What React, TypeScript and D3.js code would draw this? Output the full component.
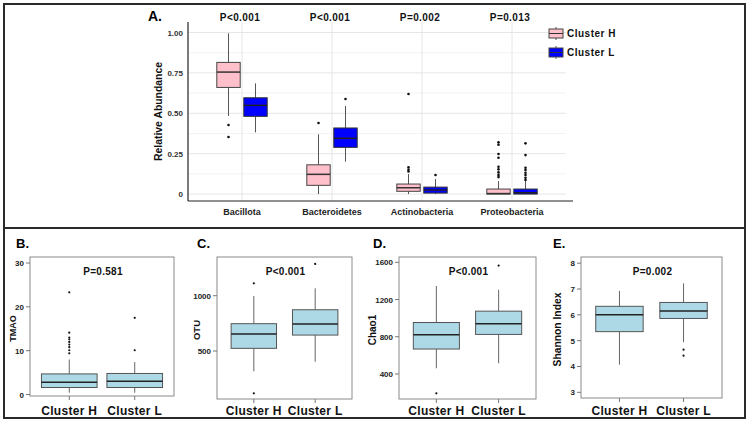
import React from 'react'
import * as d3 from 'd3'

// Panel A: relative abundance by phylum
const phyla = ['Bacillota', 'Bacteroidetes', 'Actinobacteria', 'Proteobacteria']
const phylaP = ['P<0.001', 'P<0.001', 'P=0.002', 'P=0.013']
// [whiskerLow, q1, median, q3, whiskerHigh]
const phylaH = [
  [0.483, 0.66, 0.755, 0.815, 0.995],
  [0.0, 0.054, 0.122, 0.181, 0.37],
  [0.0, 0.017, 0.039, 0.062, 0.124],
  [0.0, 0.0, 0.003, 0.031, 0.08],
]
const phylaHOut = [
  [0.427, 0.353],
  [0.44],
  [0.619, 0.165, 0.15, 0.14],
  [0.32, 0.305, 0.248, 0.225, 0.169, 0.153, 0.134, 0.118, 0.105],
]
const phylaL = [
  [0.382, 0.481, 0.549, 0.596, 0.685],
  [0.2, 0.289, 0.345, 0.409, 0.545],
  [0.0, 0.006, 0.025, 0.043, 0.093],
  [0.0, 0.0, 0.008, 0.031, 0.08],
]
const phylaLOut = [
  [],
  [0.588],
  [0.118],
  [0.314, 0.241, 0.163, 0.149, 0.132, 0.118, 0.101, 0.087],
]
const abundTicks = [0, 0.25, 0.5, 0.75, 1]
const abundTickLabels = ['0', '0.25', '0.50', '0.75', '1.00']

// Panels B–E: Cluster H vs Cluster L
const clusters = ['Cluster H', 'Cluster L']

const tmaoH = [0.4, 1.6, 2.8, 4.7, 8.0]
const tmaoL = [0.4, 1.6, 3.0, 4.8, 7.4]
const tmaoHOut = [23.3, 14.1, 13.0, 12.6, 12.0, 11.4, 10.8, 10.1, 9.4]
const tmaoLOut = [17.5, 10.1]

const otuH = [316, 524, 653, 747, 997]
const otuL = [403, 644, 744, 873, 1067]
const otuHOut = [1112, 117]
const otuLOut = [1287]

const chaoH = [461, 668, 821, 953, 1345]
const chaoL = [514, 825, 940, 1075, 1305]
const chaoHOut = [192]
const chaoLOut = [1565]

const shannonH = [4.07, 5.35, 6.0, 6.33, 6.93]
const shannonL = [4.94, 5.86, 6.15, 6.48, 7.22]
const shannonHOut: number[] = []
const shannonLOut = [4.65, 4.42]

const font = '"Liberation Sans", Arial, sans-serif'
const PINK = '#ffc0cb'
const BLUE = '#0000ff'
const LIGHTBLUE = '#add8e6'

type BoxProps = {
  cx: number
  w: number
  stats: number[]
  out: number[]
  y: d3.ScaleLinear<number, number>
  fill: string
  stroke: string
  whisker: string
  median: string
  r: number
}

function Box({ cx, w, stats, out, y, fill, stroke, whisker, median, r }: BoxProps) {
  const [lo, q1, med, q3, hi] = stats
  return (
    <g>
      <line x1={cx} x2={cx} y1={y(hi)} y2={y(q3)} stroke={whisker} strokeWidth={1} />
      <line x1={cx} x2={cx} y1={y(q1)} y2={y(lo)} stroke={whisker} strokeWidth={1} />
      <rect x={cx - w / 2} y={y(q3)} width={w} height={Math.max(0.5, y(q1) - y(q3))}
        fill={fill} stroke={stroke} strokeWidth={1} />
      <line x1={cx - w / 2} x2={cx + w / 2} y1={y(med)} y2={y(med)} stroke={median} strokeWidth={1.5} />
      {out.map((v, i) => (
        <circle key={i} cx={cx} cy={y(v)} r={r} fill="#111" />
      ))}
    </g>
  )
}

function PanelA() {
  const y = d3.scaleLinear().domain([-0.043, 1.065]).range([201, 22])
  const x = d3.scalePoint<string>().domain(phyla).range([188, 566]).padding(0.6)
  const step = x.step()
  const off = step * 0.15
  const bw = step * 0.26
  const [x0, x1] = x.range()
  const minor = abundTicks.slice(0, -1).map((t) => t + 0.125)
  return (
    <g fontFamily={font} fontWeight="bold">
      <text x={148} y={21} fontSize={14}>A.</text>
      {minor.map((t) => (
        <line key={'m' + t} x1={x0} x2={x1} y1={y(t)} y2={y(t)} stroke="#f3f3f3" />
      ))}
      {abundTicks.map((t) => (
        <line key={'g' + t} x1={x0} x2={x1} y1={y(t)} y2={y(t)} stroke="#e6e6e6" />
      ))}
      {phyla.map((p) => (
        <line key={'v' + p} x1={x(p)} x2={x(p)} y1={y.range()[1]} y2={y.range()[0]} stroke="#e6e6e6" />
      ))}
      {abundTicks.map((t, i) => (
        <text key={'t' + t} x={183} y={y(t) + 3} fontSize={8} textAnchor="end" fill="#333">
          {abundTickLabels[i]}
        </text>
      ))}
      <line x1={x0} x2={x0} y1={y.range()[1]} y2={y.range()[0]} stroke="#222" strokeWidth={1.2} />
      <line x1={x0} x2={x1 + 7} y1={y.range()[0]} y2={y.range()[0]} stroke="#222" strokeWidth={1.2} />
      <text transform={`translate(162,${(y.range()[0] + y.range()[1]) / 2}) rotate(-90)`}
        fontSize={10.4} textAnchor="middle" fill="#111">Relative Abundance</text>
      {phyla.map((p, i) => (
        <g key={p}>
          <Box cx={x(p)! - off} w={bw} stats={phylaH[i]} out={phylaHOut[i]} y={y}
            fill={PINK} stroke="#444" whisker="#555" median="#333" r={1.3} />
          <Box cx={x(p)! + off} w={bw} stats={phylaL[i]} out={phylaLOut[i]} y={y}
            fill={BLUE} stroke="#333" whisker="#555" median="#222" r={1.3} />
          <text x={x(p)!} y={215} fontSize={9} textAnchor="middle" fill="#222">{p}</text>
          <text x={x(p)! - 2} y={21} fontSize={10} textAnchor="middle" letterSpacing={0.4} fill="#111">
            {phylaP[i]}
          </text>
        </g>
      ))}
      {/* legend */}
      {[
        { label: 'Cluster H', fill: PINK, y0: 27 },
        { label: 'Cluster L', fill: BLUE, y0: 46 },
      ].map((k) => (
        <g key={k.label}>
          <line x1={556} x2={556} y1={k.y0} y2={k.y0 + 13} stroke="#555" />
          <rect x={549} y={k.y0 + 2} width={14} height={9} fill={k.fill} stroke="#444" />
          <line x1={549} x2={563} y1={k.y0 + 6.5} y2={k.y0 + 6.5} stroke="#333" />
          <text x={567} y={k.y0 + 10} fontSize={10} letterSpacing={0.5} fill="#111">{k.label}</text>
        </g>
      ))}
    </g>
  )
}

type SmallProps = {
  tag: string
  tagX: number
  frame: [number, number, number, number]
  domain: [number, number]
  ticks: number[]
  title: string
  titleX: number
  titleSize: number
  pText: string
  h: number[]
  l: number[]
  hOut: number[]
  lOut: number[]
  boxFrac: number
}

function SmallPanel(p: SmallProps) {
  const [fx0, fx1, fy0, fy1] = p.frame
  const y = d3.scaleLinear().domain(p.domain).range([fy1, fy0])
  const x = d3.scalePoint<string>().domain(clusters).range([fx0, fx1]).padding(0.6)
  const bw = x.step() * p.boxFrac
  const stats = [p.h, p.l]
  const outs = [p.hOut, p.lOut]
  return (
    <g fontFamily={font} fontWeight="bold">
      <text x={p.tagX} y={248} fontSize={13}>{p.tag}</text>
      <rect x={fx0} y={fy0} width={fx1 - fx0} height={fy1 - fy0} fill="none" stroke="#8a8a8a" strokeWidth={1} />
      {p.ticks.map((t) => (
        <g key={t}>
          <line x1={fx0 - 4} x2={fx0} y1={y(t)} y2={y(t)} stroke="#777" />
          <text x={fx0 - 6} y={y(t) + 3} fontSize={8} textAnchor="end" fill="#222">{t}</text>
        </g>
      ))}
      {clusters.map((c, i) => (
        <g key={c}>
          <line x1={x(c)!} x2={x(c)!} y1={fy1} y2={fy1 + 4} stroke="#777" />
          <Box cx={x(c)!} w={bw} stats={stats[i]} out={outs[i]} y={y}
            fill={LIGHTBLUE} stroke="#555" whisker="#666" median="#222" r={1.1} />
          <text x={x(c)!} y={415} fontSize={12} textAnchor="middle" letterSpacing={0.3} fill="#111">{c}</text>
        </g>
      ))}
      <text x={(fx0 + fx1) / 2 + 1} y={275} fontSize={10} textAnchor="middle" letterSpacing={0.3} fill="#111">
        {p.pText}
      </text>
      <text transform={`translate(${p.titleX},${(fy0 + fy1) / 2 + 2}) rotate(-90)`}
        fontSize={p.titleSize} textAnchor="middle" fill="#111">{p.title}</text>
    </g>
  )
}

export default function App() {
  return (
    <svg width={750} height={422} style={{ position: 'absolute', left: 0, top: 0, background: '#fff' }}>
      <rect x={0} y={0} width={750} height={422} fill="#fff" />
      <PanelA />
      <SmallPanel tag="B." tagX={16} frame={[30, 174, 257, 396]} domain={[-0.34, 31.37]}
        ticks={[0, 10, 20, 30]} title="TMAO" titleX={16} titleSize={9} pText="P=0.581"
        h={tmaoH} l={tmaoL} hOut={tmaoHOut} lOut={tmaoLOut} boxFrac={0.85} />
      <SmallPanel tag="C." tagX={197} frame={[217, 352, 257, 399]} domain={[66, 1350]}
        ticks={[500, 1000]} title="OTU" titleX={200} titleSize={9.5} pText="P<0.001"
        h={otuH} l={otuL} hOut={otuHOut} lOut={otuLOut} boxFrac={0.74} />
      <SmallPanel tag="D." tagX={373} frame={[399, 536, 257, 399]} domain={[131, 1657]}
        ticks={[400, 800, 1200, 1600]} title="Chao1" titleX={376} titleSize={10} pText="P<0.001"
        h={chaoH} l={chaoL} hOut={chaoHOut} lOut={chaoLOut} boxFrac={0.74} />
      <SmallPanel tag="E." tagX={553} frame={[581, 722, 257, 398]} domain={[2.78, 8.24]}
        ticks={[3, 4, 5, 6, 7, 8]} title="Shannon Index" titleX={561} titleSize={10.3} pText="P=0.002"
        h={shannonH} l={shannonL} hOut={shannonHOut} lOut={shannonLOut} boxFrac={0.74} />
      {/* outer frame and divider */}
      <rect x={4} y={4} width={741} height={414} fill="none" stroke="#2a2a2a" strokeWidth={2} />
      <line x1={4} x2={745} y1={228} y2={228} stroke="#2a2a2a" strokeWidth={2} />
    </svg>
  )
}
